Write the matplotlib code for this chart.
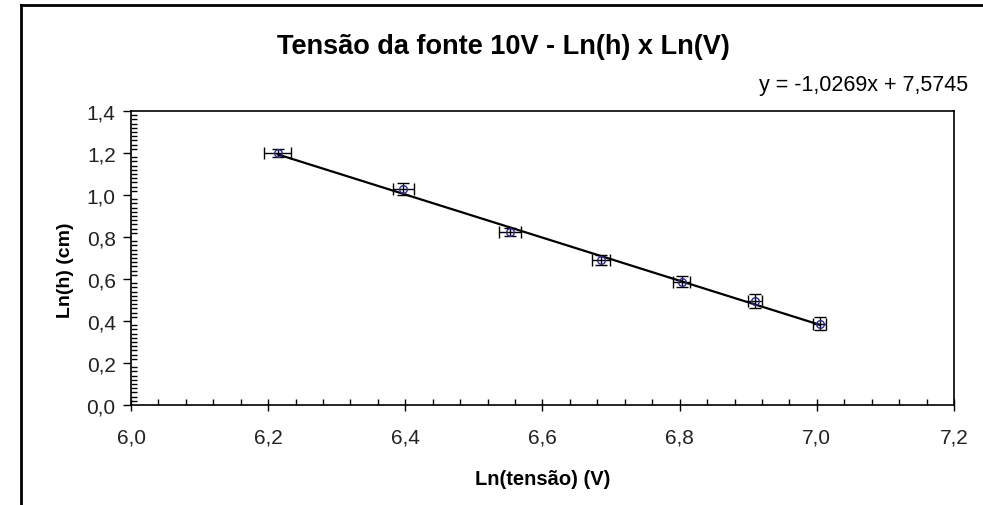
import matplotlib.pyplot as plt
from matplotlib.ticker import MultipleLocator, FuncFormatter
from matplotlib.lines import Line2D

plt.rcParams['font.family'] = ['Liberation Sans', 'DejaVu Sans']

# Dados: ln(tensão) e ln(h) com incertezas
ln_v = [6.214, 6.397, 6.552, 6.685, 6.803, 6.910, 7.004]
ln_h = [1.200, 1.030, 0.824, 0.690, 0.586, 0.495, 0.388]
erro_x = [0.020, 0.015, 0.016, 0.013, 0.012, 0.010, 0.010]
erro_y = [0.020, 0.028, 0.021, 0.024, 0.026, 0.034, 0.033]

# Reta de ajuste
a = -1.0269
b = 7.5745

fig = plt.figure(figsize=(9.83, 5.06), dpi=100)
ax = fig.add_axes([131/983, 100/506, (954-131)/983, (406-112)/506])

ax.errorbar(ln_v, ln_h, xerr=erro_x, yerr=erro_y, fmt='none', ecolor='black',
            elinewidth=1, capsize=4, capthick=1, zorder=2)
xs = [min(ln_v), max(ln_v)]
ax.plot(xs, [a*x + b for x in xs], color='black', linewidth=1.6, zorder=3)
ax.plot(ln_v, ln_h, 'o', markersize=5.5, markerfacecolor='none',
        markeredgecolor='#2b2b8c', markeredgewidth=1, zorder=4)

ax.set_xlim(6.0, 7.2)
ax.set_ylim(0.0, 1.4)
ax.xaxis.set_major_locator(MultipleLocator(0.2))
ax.xaxis.set_minor_locator(MultipleLocator(0.04))
ax.yaxis.set_major_locator(MultipleLocator(0.2))
ax.yaxis.set_minor_locator(MultipleLocator(0.02))
virgula = FuncFormatter(lambda v, p: ('%.1f' % v).replace('.', ','))
ax.xaxis.set_major_formatter(virgula)
ax.yaxis.set_major_formatter(virgula)

ax.tick_params(axis='x', which='major', direction='inout', length=8, width=1,
               labelsize=15, labelcolor='#222222', pad=12)
ax.tick_params(axis='x', which='minor', direction='in', length=4, width=1)
ax.tick_params(axis='y', which='major', direction='out', length=6, width=1,
               labelsize=15, labelcolor='#222222', pad=5)
ax.tick_params(axis='y', which='minor', direction='in', length=4, width=1)
for s in ax.spines.values():
    s.set_linewidth(1.2)

ax.set_xlabel('Ln(tensão) (V)', fontsize=14.5, fontweight='bold')
ax.set_ylabel('Ln(h) (cm)', fontsize=14, fontweight='bold')
ax.xaxis.set_label_coords(0.5006, -0.218)
ax.yaxis.set_label_coords(-0.0692, 0.463)

fig.text(503/983, 1 - 47/506, 'Tensão da fonte 10V - Ln(h) x Ln(V)',
         ha='center', va='center', fontsize=19.5, fontweight='bold')
fig.text(968/983, 1 - 85/506, 'y = -1,0269x + 7,5745',
         ha='right', va='center', fontsize=15.5)

# Moldura do gráfico
fig.add_artist(Line2D([21/983, 21/983], [0, 1 - 6/506], color='black', linewidth=2))
fig.add_artist(Line2D([21/983, 1], [1 - 6/506, 1 - 6/506], color='black', linewidth=2))

fig.savefig('out.png', dpi=100)
